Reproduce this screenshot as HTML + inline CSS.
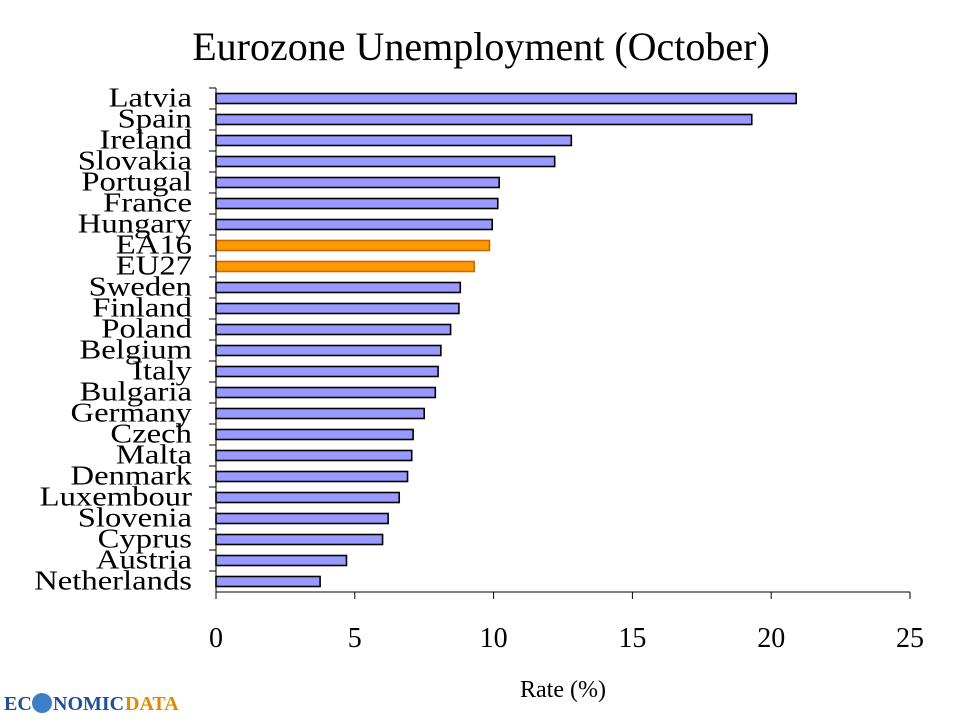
<!DOCTYPE html>
<html><head><meta charset="utf-8"><style>
body{margin:0;background:#fff;}
svg text{font-family:"Liberation Serif",serif;}
</style></head><body>
<svg width="960" height="720" id="c">
<text x="481" y="60" text-anchor="middle" font-size="40">Eurozone Unemployment (October)</text>
<text x="563" y="697" text-anchor="middle" font-size="24">Rate (%)</text>
<g>
<text x="4" y="710" font-size="20" font-weight="bold" fill="#1f4e9a" font-family="Liberation Sans">EC</text>
<circle cx="42" cy="703" r="10" fill="#3a7fc8"/>
<text x="53" y="710" font-size="20" font-weight="bold" fill="#1f4e9a" font-family="Liberation Sans">NOMIC</text>
<text x="125" y="710" font-size="20" font-weight="bold" fill="#e08a00" font-family="Liberation Sans">DATA</text>
</g>
</svg>
<script>
const categories=["Latvia","Spain","Ireland","Slovakia","Portugal","France","Hungary","EA16","EU27","Sweden","Finland","Poland","Belgium","Italy","Bulgaria","Germany","Czech","Malta","Denmark","Luxembour","Slovenia","Cyprus","Austria","Netherlands"];
const values=[20.9,19.3,12.8,12.2,10.2,10.15,9.95,9.85,9.3,8.8,8.75,8.45,8.1,8.0,7.9,7.5,7.1,7.05,6.9,6.6,6.2,6.0,4.7,3.75];
const ticks=[0,5,10,15,20,25];
const svg=document.getElementById('c');const NS='http://www.w3.org/2000/svg';
const x0=216,x1=910,yTop=88,yBottom=592;
const xs=v=>x0+(v-0)/25*(x1-x0);
const band=(yBottom-yTop)/categories.length;
function mk(t,a){const e=document.createElementNS(NS,t);for(const k in a)e.setAttribute(k,a[k]);svg.appendChild(e);return e;}
categories.forEach((c,i)=>{
 const cy=yTop+band*(i+0.5);
 const hl=(c==="EA16"||c==="EU27");
 const r=mk('rect',{x:x0,y:cy-5,width:xs(values[i])-x0,height:10,fill:hl?'#ff9900':'#9999ff',stroke:hl?'#cc6600':'#000','stroke-width':1.6});
 
 
 const t=mk('text',{x:0,y:0,'text-anchor':'end','font-size':27,transform:'translate(192,'+(cy+8)+') scale(1.21,1)'});
 t.textContent=c;
 
 
 const tk=mk('line',{x1:209,x2:x0,y1:yTop+band*i,y2:yTop+band*i,stroke:'#000'});
 
 
});
const ya=mk('line',{x1:x0,x2:x0,y1:yTop,y2:yBottom,stroke:'#000'});


const xa=mk('line',{x1:x0,x2:x1,y1:yBottom,y2:yBottom,stroke:'#000'});


ticks.forEach(v=>{
 const l=mk('line',{x1:xs(v),x2:xs(v),y1:yBottom,y2:yBottom+7,stroke:'#000'});
 
 
 const t=mk('text',{x:xs(v),y:647,'text-anchor':'middle','font-size':28});
 t.textContent=v;
 
 
});
</script>
</body></html>
